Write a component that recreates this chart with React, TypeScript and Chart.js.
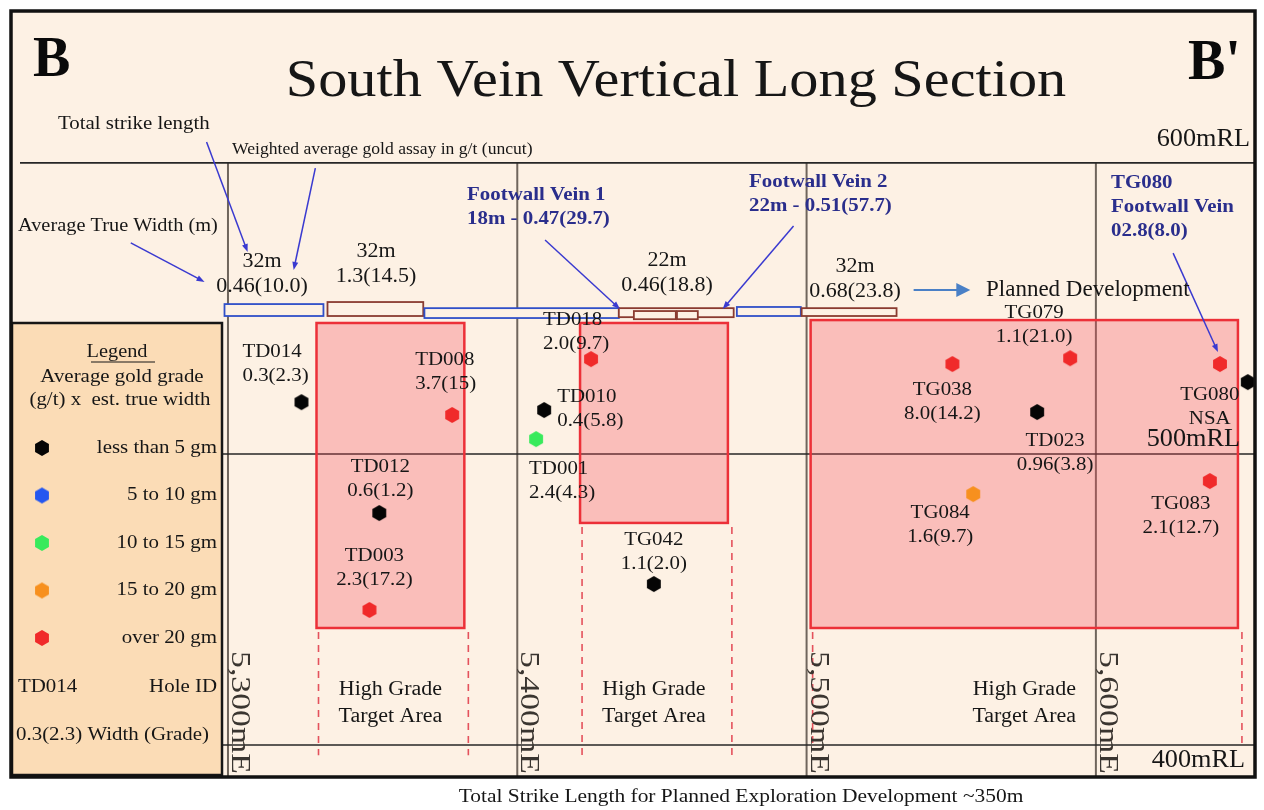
import React, { useEffect, useRef } from 'react';
import { Chart, registerables } from 'chart.js';

Chart.register(...registerables);

const SERIF = '"Liberation Serif", "Times New Roman", serif';

// ---------------- data ----------------
const gradeClasses = ['less than 5 gm', '5 to 10 gm', '10 to 15 gm', '15 to 20 gm', 'over 20 gm'];
const gradeColors = ['#050505', '#2457f0', '#38ea5c', '#f7901e', '#f02a2a'];

const holeIds = ['TD014', 'TD008', 'TD012', 'TD003', 'TD018', 'TD010', 'TD001', 'TG042', 'TG038', 'TG079', 'TD023', 'TG080', 'TG080', 'TG084', 'TG083'];
const holeWidthGrade = ['0.3(2.3)', '3.7(15)', '0.6(1.2)', '2.3(17.2)', '2.0(9.7)', '0.4(5.8)', '2.4(4.3)', '1.1(2.0)', '8.0(14.2)', '1.1(21.0)', '0.96(3.8)', '2.8(8.0)', 'NSA', '1.6(9.7)', '2.1(12.7)'];
const holeEasting = [5325.4, 5377.5, 5352.3, 5348.9, 5425.5, 5409.3, 5406.5, 5447.2, 5550.4, 5591.1, 5579.7, 5642.9, 5652.5, 5557.6, 5639.4];
const holeRL = [517.8, 513.4, 479.7, 446.4, 532.6, 515.1, 505.1, 455.3, 530.9, 532.9, 514.4, 530.9, 524.7, 486.2, 490.7];
const holeGradeClass = [0, 4, 0, 4, 4, 0, 2, 0, 4, 4, 0, 4, 0, 3, 4];

// vein development segments (0 = blue outline, 1 = brown outline)
const veinStartE = [5298.8, 5334.4, 5367.9, 5435.1, 5440.3, 5455.2, 5475.9, 5498.3];
const veinEndE = [5333.0, 5367.5, 5435.1, 5474.8, 5454.8, 5462.4, 5498.0, 5531.1];
const veinTopRL = [551.5, 552.2, 550.1, 550.1, 549.1, 549.1, 550.5, 550.1];
const veinBottomRL = [547.4, 547.4, 546.7, 547.0, 546.3, 546.3, 547.4, 547.4];
const veinKind = [0, 1, 0, 1, 1, 1, 0, 1];

// high grade target areas
const targetStartE = [5330.6, 5421.7, 5501.4];
const targetEndE = [5381.7, 5472.8, 5649.1];
const targetTopRL = [545.0, 545.0, 546.0];
const targetBottomRL = [440.2, 476.3, 440.2];
const targetProjectRL = [396.5, 394.8, 399.0];

// section grid
const gridEastings = [5300, 5400, 5500, 5600];
const eastingLabels = ['5,300mE', '5,400mE', '5,500mE', '5,600mE'];
const gridRLs = [600, 500, 400];
const rlLabels = ['600mRL', '500mRL', '400mRL'];

// vein summary labels
const summaryLength = ['32m', '32m', '22m', '32m'];
const summaryGrade = ['0.46(10.0)', '1.3(14.5)', '0.46(18.8)', '0.68(23.8)'];

// footwall callouts
const calloutLines = [
  ['Footwall Vein 1', '18m - 0.47(29.7)'],
  ['Footwall Vein 2', '22m - 0.51(57.7)'],
  ['TG080', 'Footwall Vein', '02.8(8.0)'],
];

// leader arrows [fromE, fromRL, toE, toRL]
const leaderArrows = [
  [5292.6, 607.2, 5306.8, 569.4],
  [5330.2, 598.2, 5322.7, 563.2],
  [5266.4, 572.5, 5291.9, 559.1],
  [5409.6, 573.5, 5435.5, 549.8],
  [5495.5, 578.3, 5471.0, 549.8],
  [5626.7, 569.0, 5642.2, 535.0],
];
const plannedArrow = [5537.0, 556.3, 5556.6, 556.3];

// ---------------- layout (pixels) ----------------
const holeLabelOffsets: ([number, number, string] | null)[] = [
  [-59, -50, 'left'], [-37, -55, 'left'], [1, -46, 'center'], [5, -54, 'center'],
  [-48, -39, 'left'], [13, -13, 'left'], [-7, 30, 'left'], [0, -44, 'center'],
  [-10, 26, 'center'], [-36, -45, 'center'], [18, 29, 'center'], null,
  [-38, 13, 'center'], [-33, 19, 'center'], [-29, 23, 'center'],
];
const summaryPos = [[262, 262], [376, 252], [667, 261], [855, 267]];
const calloutPos = [[467, 195], [749, 182], [1111, 183]];
const rlLabelOffset = [[1250, -23], [1240, -15], [1245, 15]];

const FRAME = { left: 11, top: 11, right: 1257, bottom: 777 };

function hexImage(color: string, r = 8) {
  const c = document.createElement('canvas');
  const s = Math.ceil(r * 2 + 2);
  c.width = s;
  c.height = s;
  const g = c.getContext('2d')!;
  g.fillStyle = color;
  g.beginPath();
  for (let i = 0; i < 6; i++) {
    const a = (Math.PI / 3) * i + Math.PI / 6;
    g.lineTo(s / 2 + r * Math.cos(a), s / 2 + r * Math.sin(a));
  }
  g.closePath();
  g.fill();
  return c;
}

function drawText(ctx: CanvasRenderingContext2D, s: string, x: number, y: number, size: number, o: any = {}) {
  ctx.save();
  ctx.font = `${o.bold ? 'bold ' : ''}${size}px ${o.font || SERIF}`;
  ctx.fillStyle = o.color || '#161616';
  ctx.textAlign = o.align || 'left';
  ctx.textBaseline = o.baseline || 'middle';
  ctx.translate(x, y);
  if (o.rotate) ctx.rotate(o.rotate);
  ctx.scale(o.sx ?? 1.1, 1);
  ctx.fillText(s, 0, 0);
  ctx.restore();
}

function drawArrow(ctx: CanvasRenderingContext2D, x0: number, y0: number, x1: number, y1: number, color: string, lw: number, hl: number, hw: number) {
  const dx = x1 - x0, dy = y1 - y0;
  const len = Math.hypot(dx, dy);
  const ux = dx / len, uy = dy / len;
  ctx.save();
  ctx.strokeStyle = color;
  ctx.fillStyle = color;
  ctx.lineWidth = lw;
  ctx.beginPath();
  ctx.moveTo(x0, y0);
  ctx.lineTo(x1 - ux * hl * 0.8, y1 - uy * hl * 0.8);
  ctx.stroke();
  ctx.beginPath();
  ctx.moveTo(x1, y1);
  ctx.lineTo(x1 - ux * hl - uy * hw, y1 - uy * hl + ux * hw);
  ctx.lineTo(x1 - ux * hl + uy * hw, y1 - uy * hl - ux * hw);
  ctx.closePath();
  ctx.fill();
  ctx.restore();
}

const sectionPlugin = {
  id: 'sectionPlugin',
  beforeDraw(chart: any) {
    const ctx: CanvasRenderingContext2D = chart.ctx;
    const xs = chart.scales.x, ys = chart.scales.y;
    const X = (v: number) => xs.getPixelForValue(v);
    const Y = (v: number) => ys.getPixelForValue(v);
    const a = chart.chartArea;
    ctx.save();
    ctx.fillStyle = '#ffffff';
    ctx.fillRect(0, 0, chart.width, chart.height);
    ctx.fillStyle = '#fdf1e4';
    ctx.fillRect(a.left, a.top, a.right - a.left, a.bottom - a.top);

    // vertical grid lines
    ctx.strokeStyle = '#6f655c';
    ctx.lineWidth = 2;
    gridEastings.forEach((e) => {
      ctx.beginPath();
      ctx.moveTo(X(e), Y(600));
      ctx.lineTo(X(e), a.bottom);
      ctx.stroke();
    });
    // horizontal grid lines
    ctx.strokeStyle = '#262626';
    ctx.lineWidth = 1.6;
    gridRLs.forEach((rl, i) => {
      ctx.beginPath();
      ctx.moveTo(i === 0 ? a.left + 9 : a.left, Y(rl));
      ctx.lineTo(a.right, Y(rl));
      ctx.stroke();
    });

    // target areas
    targetStartE.forEach((e0, i) => {
      const x0 = X(e0), x1 = X(targetEndE[i]);
      const y0 = Y(targetTopRL[i]), y1 = Y(targetBottomRL[i]);
      ctx.fillStyle = 'rgba(245, 72, 88, 0.30)';
      ctx.fillRect(x0, y0, x1 - x0, y1 - y0);
      ctx.strokeStyle = '#ec3038';
      ctx.lineWidth = 2.5;
      ctx.strokeRect(x0, y0, x1 - x0, y1 - y0);
      ctx.save();
      ctx.setLineDash([7, 6]);
      ctx.strokeStyle = '#e4525c';
      ctx.lineWidth = 1.6;
      [x0 + 2, x1 + 4].forEach((x) => {
        ctx.beginPath();
        ctx.moveTo(x, y1 + 4);
        ctx.lineTo(x, Y(targetProjectRL[i]));
        ctx.stroke();
      });
      ctx.restore();
    });

    // vein segments
    veinStartE.forEach((e0, i) => {
      const x0 = X(e0), x1 = X(veinEndE[i]);
      const y0 = Y(veinTopRL[i]), y1 = Y(veinBottomRL[i]);
      ctx.fillStyle = '#fdf1e4';
      ctx.fillRect(x0, y0, x1 - x0, y1 - y0);
      ctx.strokeStyle = veinKind[i] === 0 ? '#3050c8' : '#8a3b30';
      ctx.lineWidth = 1.8;
      ctx.strokeRect(x0, y0, x1 - x0, y1 - y0);
    });
    ctx.restore();
  },
  afterDatasetsDraw(chart: any) {
    const ctx: CanvasRenderingContext2D = chart.ctx;
    const xs = chart.scales.x, ys = chart.scales.y;
    const X = (v: number) => xs.getPixelForValue(v);
    const Y = (v: number) => ys.getPixelForValue(v);
    const a = chart.chartArea;

    // hole labels
    holeIds.forEach((id, i) => {
      const off = holeLabelOffsets[i];
      if (!off) return;
      const px = X(holeEasting[i]) + off[0];
      const py = Y(holeRL[i]) + off[1];
      drawText(ctx, id, px, py, 19, { align: off[2] });
      drawText(ctx, holeWidthGrade[i], px, py + 24, 19, { align: off[2] });
    });

    // vein summaries
    summaryLength.forEach((s, i) => {
      const [x, y] = summaryPos[i];
      drawText(ctx, s, x, y, 20, { align: 'center' });
      drawText(ctx, summaryGrade[i], x, y + 25, 20, { align: 'center' });
    });

    // footwall callouts
    calloutLines.forEach((lines, i) => {
      const [x, y] = calloutPos[i];
      lines.forEach((l, j) => drawText(ctx, l, x, y + j * 24, 19, { bold: true, color: '#2a2e8c' }));
    });

    // leader arrows
    leaderArrows.forEach(([e0, r0, e1, r1]) => {
      drawArrow(ctx, X(e0), Y(r0), X(e1), Y(r1), '#3a3ad0', 1.5, 8, 3);
    });
    drawArrow(ctx, X(plannedArrow[0]), Y(plannedArrow[1]), X(plannedArrow[2]), Y(plannedArrow[3]), '#4a80c6', 2, 14, 7);
    drawText(ctx, 'Planned Development', 986, 290, 23, { sx: 1.0 });

    // annotation texts
    drawText(ctx, 'Total strike length', 58, 124, 19);
    drawText(ctx, 'Weighted average gold assay in g/t (uncut)', 232, 150, 16);
    drawText(ctx, 'Average True Width (m)', 18, 226, 18.5);

    // high grade target labels
    targetStartE.forEach((e0, i) => {
      const cx = (X(e0) + X(targetEndE[i])) / 2;
      drawText(ctx, 'High Grade', cx, 690, 20, { align: 'center' });
      drawText(ctx, 'Target Area', cx, 717, 20, { align: 'center' });
    });

    // easting labels (rotated)
    gridEastings.forEach((e, i) => {
      drawText(ctx, eastingLabels[i], X(e) + 4, 651, 27, { rotate: Math.PI / 2, baseline: 'alphabetic', sx: 1.25, color: '#3a3530' });
    });
    // RL labels
    gridRLs.forEach((rl, i) => {
      drawText(ctx, rlLabels[i], rlLabelOffset[i][0], Y(rl) + rlLabelOffset[i][1], 25, { align: 'right', sx: 1.05 });
    });

    // title
    drawText(ctx, 'South Vein Vertical Long Section', 676, 82, 53, { align: 'center' });
    drawText(ctx, 'B', 33, 62, 56, { bold: true, sx: 1.0, color: '#0a0a0a' });
    drawText(ctx, "B'", 1188, 65, 56, { bold: true, sx: 1.0, color: '#0a0a0a' });

    // legend box
    ctx.save();
    ctx.fillStyle = '#fbdcb6';
    ctx.fillRect(12, 323, 210, 452);
    ctx.strokeStyle = '#161616';
    ctx.lineWidth = 2.5;
    ctx.strokeRect(12, 323, 210, 452);
    ctx.restore();
    drawText(ctx, 'Legend', 117, 352, 18.5, { align: 'center' });
    ctx.save();
    ctx.strokeStyle = '#161616';
    ctx.lineWidth = 1;
    ctx.beginPath();
    ctx.moveTo(91, 362);
    ctx.lineTo(155, 362);
    ctx.stroke();
    ctx.restore();
    drawText(ctx, 'Average gold grade', 122, 377, 19, { align: 'center' });
    drawText(ctx, '(g/t) x  est. true width', 120, 400, 19, { align: 'center' });
    gradeClasses.forEach((g, i) => {
      const y = 448 + i * 47.5;
      ctx.drawImage(hexImage(gradeColors[i]), 42 - 9, y - 9);
      drawText(ctx, g, 217, y, 19, { align: 'right' });
    });
    drawText(ctx, 'TD014', 18, 687, 19);
    drawText(ctx, 'Hole ID', 217, 687, 19, { align: 'right' });
    drawText(ctx, '0.3(2.3) Width (Grade)', 16, 735, 19, { sx: 1.1 });

    // frame
    ctx.save();
    ctx.strokeStyle = '#111111';
    ctx.lineWidth = 3.5;
    ctx.strokeRect(a.left, a.top, a.right - a.left, a.bottom - a.top);
    ctx.restore();

    drawText(ctx, 'Total Strike Length for Planned Exploration Development ~350m', 741, 797, 19.5, { align: 'center' });
  },
};

export default function App() {
  const ref = useRef<HTMLCanvasElement>(null);
  useEffect(() => {
    const hexes = gradeColors.map((c) => hexImage(c));
    const datasets = gradeClasses.map((name, c) => ({
      label: name,
      data: holeEasting
        .map((e, i) => ({ x: e, y: holeRL[i], k: holeGradeClass[i] }))
        .filter((p) => p.k === c)
        .map((p) => ({ x: p.x, y: p.y })),
      pointStyle: hexes[c],
      pointRadius: 8,
      backgroundColor: gradeColors[c],
      borderColor: gradeColors[c],
      showLine: false,
    }));
    const chart = new Chart(ref.current!, {
      type: 'scatter',
      data: { datasets },
      options: {
        animation: false,
        responsive: false,
        events: [],
        layout: { padding: { left: FRAME.left, top: FRAME.top, right: 1264 - FRAME.right, bottom: 810 - FRAME.bottom } },
        scales: {
          x: { type: 'linear', min: 5225, max: 5655, display: false },
          y: { type: 'linear', min: 389, max: 652.2, display: false },
        },
        plugins: { legend: { display: false }, tooltip: { enabled: false } },
      },
      plugins: [sectionPlugin],
    } as any);
    return () => chart.destroy();
  }, []);
  return (
    <div style={{ position: 'absolute', left: 0, top: 0, width: 1264, height: 810, background: '#fff' }}>
      <canvas ref={ref} width={1264} height={810} style={{ display: 'block' }} />
    </div>
  );
}
